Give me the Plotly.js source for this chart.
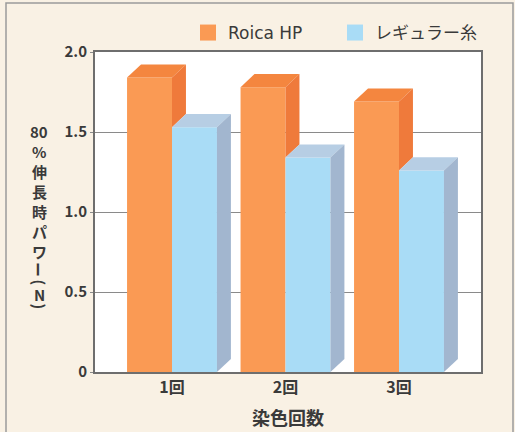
<!DOCTYPE html>
<html>
<head>
<meta charset="utf-8">
<script src="https://cdn.plot.ly/plotly-3.0.1.min.js"></script>
<style>
  html, body { margin: 0; padding: 0; background: #f9f1e4; }
  #chart { width: 515px; height: 432px; }
</style>
</head>
<body>
<div id="chart"></div>
<script>
// ---- data ----
const categories = ['1回', '2回', '3回'];
const seriesNames = ['Roica HP', 'レギュラー糸'];
const roicaHP = [1.84, 1.78, 1.69];
const regular = [1.53, 1.34, 1.26];
const yTickVals = [0, 0.5, 1.0, 1.5, 2.0];
const yTickText = ['0', '0.5', '1.0', '1.5', '2.0'];
const yTitleChars = ['80', '%', '伸', '長', '時', 'パ', 'ワ', 'ー', '(', 'N', ')'];
const xTitle = '染色回数';

// ---- style ----
const FONT = '"Noto Sans CJK JP", "Noto Sans", sans-serif';
const LEGFONT = '"DejaVu Sans", "Noto Sans CJK JP", sans-serif';
const TXT = '#3a3a3a';
const BW = 0.396;      // bar front width (x units)
const DX = 0.123;      // 3D depth in x units
const DY = 0.082;      // 3D depth in y units
const colors = {
  orange: { front: '#fa9a54', side: '#ef7a3b', top: '#f4863f' },
  blue:   { front: '#a9dcf6', side: '#a2b6cf', top: '#b7cee4' }
};

const xs = categories.map((c, i) => i);
const traces = [];

// front faces as bars
traces.push({
  type: 'bar', name: seriesNames[0], x: xs, y: roicaHP, showlegend: false,
  width: BW, offset: -BW, marker: { color: colors.orange.front, line: { width: 0 } },
  hoverinfo: 'skip'
});
traces.push({
  type: 'bar', name: seriesNames[1], x: xs, y: regular, showlegend: false,
  width: BW, offset: 0, marker: { color: colors.blue.front, line: { width: 0 } },
  hoverinfo: 'skip'
});

function poly(px, py, color) {
  traces.push({
    type: 'scatter', mode: 'lines', x: px.concat([px[0]]), y: py.concat([py[0]]),
    fill: 'toself', fillcolor: color, line: { width: 0, color: color },
    showlegend: false, hoverinfo: 'skip'
  });
}

xs.forEach((xc, i) => {
  const vo = roicaHP[i], vb = regular[i];
  const o0 = xc - BW, o1 = xc;
  poly([o0, o0 + DX, o1 + DX, o1], [vo, vo + DY, vo + DY, vo], colors.orange.top);
  // orange side: visible part above the blue bar's top face
  poly([o1, o1 + DX, o1 + DX, o1], [vb, vb + DY, vo + DY, vo], colors.orange.side);
  const b0 = xc, b1 = xc + BW;
  poly([b0, b0 + DX, b1 + DX, b1], [vb, vb + DY, vb + DY, vb], colors.blue.top);
  poly([b1, b1 + DX, b1 + DX, b1], [0, DY, vb + DY, vb], colors.blue.side);
});

// legend entries (large square swatches)
[colors.orange.front, colors.blue.front].forEach((c, i) => {
  traces.push({
    type: 'scatter', mode: 'markers', name: seriesNames[i], x: [null], y: [null],
    marker: { symbol: 'square', size: 18, color: c }, showlegend: true, hoverinfo: 'skip'
  });
});

const L = 95, R = 481, T = 52, B = 372;
const W = 515, H = 432;
const pxToPaperX = px => (px - L) / (R - L);
const pxToPaperY = py => (B - py) / (B - T);

// vertical y-axis title, one annotation per glyph
const annotations = [];
let cy = 121;
yTitleChars.forEach(ch => {
  const isParen = (ch === '(' || ch === ')');
  const rotate = isParen || ch === 'ー';
  const adv = isParen ? 11 : (ch === 'ー' ? 16 : (ch === 'N' ? 13 : 20));
  const center = cy + adv / 2;
  annotations.push({
    text: ch, xref: 'paper', yref: 'paper',
    x: pxToPaperX(39), y: pxToPaperY(center),
    xanchor: 'center', yanchor: 'middle', showarrow: false,
    textangle: rotate ? 90 : 0,
    font: { family: FONT, size: 15, color: TXT, weight: 'bold' }
  });
  cy += adv;
});
annotations.push({
  text: xTitle, xref: 'paper', yref: 'paper',
  x: pxToPaperX(288), y: pxToPaperY(417), xanchor: 'center', yanchor: 'middle',
  showarrow: false, font: { family: FONT, size: 18, color: TXT, weight: 'bold' }
});

const layout = {
  width: W, height: H,
  margin: { l: L, r: W - R, t: T, b: H - B, pad: 0 },
  paper_bgcolor: '#f9f1e4',
  plot_bgcolor: '#ffffff',
  font: { family: FONT, color: TXT, size: 15 },
  barmode: 'overlay',
  showlegend: true,
  legend: {
    orientation: 'h', x: pxToPaperX(188), xanchor: 'left',
    y: pxToPaperY(33), yanchor: 'middle', itemsizing: 'trace',
    bgcolor: 'rgba(0,0,0,0)', font: { family: LEGFONT, size: 17, color: TXT },
    entrywidth: 102, entrywidthmode: 'pixels', traceorder: 'normal'
  },
  xaxis: {
    range: [-(172 - L) / 113.5, 2 + (R - 399) / 113.5],
    tickvals: xs, ticktext: categories,
    showgrid: false, zeroline: false,
    showline: true, linecolor: '#6e6e6e', linewidth: 2, mirror: true,
    ticks: '', tickfont: { family: FONT, size: 16, color: TXT, weight: 'bold' },
    fixedrange: true
  },
  yaxis: {
    range: [0, 2.0],
    tickvals: yTickVals, ticktext: yTickText,
    showgrid: true, gridcolor: '#8a8a8a', gridwidth: 1,
    zeroline: false,
    showline: true, linecolor: '#6e6e6e', linewidth: 2, mirror: true,
    ticks: 'outside', ticklen: 3, tickcolor: '#8a8a8a',
    tickfont: { family: FONT, size: 15, color: TXT, weight: 'bold' },
    fixedrange: true
  },
  annotations: annotations,
  shapes: [
    { type: 'rect', xref: 'paper', yref: 'paper',
      x0: pxToPaperX(6), x1: pxToPaperX(513), y0: pxToPaperY(445), y1: pxToPaperY(3),
      line: { color: '#9a9a9a', width: 1.5 }, fillcolor: 'rgba(0,0,0,0)', layer: 'below' }
  ]
};

Plotly.newPlot('chart', traces, layout, { displayModeBar: false, staticPlot: true });
</script>
</body>
</html>
